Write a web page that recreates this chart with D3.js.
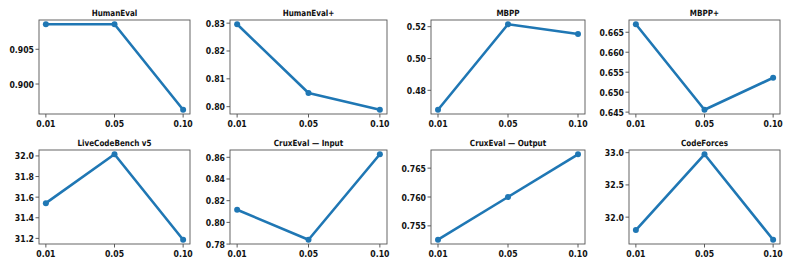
<!DOCTYPE html>
<html>
<head>
<meta charset="utf-8">
<script src="https://cdn.jsdelivr.net/npm/d3@7"></script>
<style>
  body { margin: 0; background: #fff; }
  text { font-family: "DejaVu Sans", sans-serif; font-weight: bold; fill: #111; }
</style>
</head>
<body>
<script>
// Sensitivity of each benchmark to the threshold value
var xLabels = ["0.01", "0.05", "0.10"]

var titles = ["HumanEval", "HumanEval+", "MBPP", "MBPP+",
              "LiveCodeBench v5", "CruxEval \u2014 Input", "CruxEval \u2014 Output", "CodeForces"]

var humanEval    = [0.9086, 0.9086, 0.8963]
var humanEvalP   = [0.8296, 0.8049, 0.7989]
var mbpp         = [0.4678, 0.5215, 0.5154]
var mbppP        = [0.6670, 0.6456, 0.6536]
var liveCode     = [31.542, 32.016, 31.187]
var cruxInput    = [0.8116, 0.7840, 0.8628]
var cruxOutput   = [0.7526, 0.7600, 0.7674]
var codeForces   = [31.80, 32.975, 31.65]

var yTicks = [
  [0.900, 0.905],
  [0.80, 0.81, 0.82, 0.83],
  [0.48, 0.50, 0.52],
  [0.645, 0.650, 0.655, 0.660, 0.665],
  [31.2, 31.4, 31.6, 31.8, 32.0],
  [0.78, 0.80, 0.82, 0.84, 0.86],
  [0.755, 0.760, 0.765],
  [32.0, 32.5, 33.0]
]
var yFormats = [".3f", ".2f", ".2f", ".3f", ".1f", ".2f", ".3f", ".1f"]

var series = [humanEval, humanEvalP, mbpp, mbppP, liveCode, cruxInput, cruxOutput, codeForces]

// panel geometry
var colLeft = [39, 230, 431, 629]
var colRight = [190, 387, 585, 780]
var rowTop = [20, 150]
var rowBottom = [114, 244]

var blue = "#1f77b4"
var tickSize = 9.5
var squeeze = 0.82

var svg = d3.select("body")
  .append("svg")
  .attr("width", 793)
  .attr("height", 267)

function squeezedText(g, x, y, str, anchor, size, sx) {
  g.append("g")
    .attr("transform", "translate(" + x + "," + y + ") scale(" + sx + ",1)")
    .append("text")
    .attr("text-anchor", anchor)
    .attr("font-size", size)
    .text(str)
}

series.forEach(function(vals, i)
{
  var c = i % 4
  var r = Math.floor(i / 4)
  var x0 = colLeft[c], x1 = colRight[c]
  var y0 = rowTop[r], y1 = rowBottom[r]

  var xScale = d3.scaleLinear()
    .domain([-0.1, 2.1])
    .range([x0, x1])

  var lo = d3.min(vals), hi = d3.max(vals)
  var pad = (hi - lo) * 0.05
  var yScale = d3.scaleLinear()
    .domain([lo - pad, hi + pad])
    .range([y1, y0])

  var g = svg.append("g").attr("class", "panel")

  // ticks
  var fmt = d3.format(yFormats[i])
  yTicks[i].forEach(function(t)
  {
    var y = yScale(t)
    g.append("line")
      .attr("x1", x0 - 3.5).attr("x2", x0)
      .attr("y1", y).attr("y2", y)
      .attr("stroke", "#333").attr("stroke-width", 0.8)
    squeezedText(g, x0 - 5, y + 3.5, fmt(t), "end", tickSize, squeeze)
  })

  xLabels.forEach(function(lab, k)
  {
    var x = xScale(k)
    g.append("line")
      .attr("x1", x).attr("x2", x)
      .attr("y1", y1).attr("y2", y1 + 3.5)
      .attr("stroke", "#333").attr("stroke-width", 0.8)
    squeezedText(g, x, y1 + 13, lab, "middle", tickSize, squeeze)
  })

  // line and markers
  var line = d3.line()
    .x(function(d, k) { return xScale(k) })
    .y(function(d) { return yScale(d) })

  g.append("path")
    .datum(vals)
    .attr("d", line)
    .attr("fill", "none")
    .attr("stroke", blue)
    .attr("stroke-width", 2.6)
    .attr("stroke-linejoin", "round")

  g.selectAll("circle")
    .data(vals)
    .enter()
    .append("circle")
    .attr("cx", function(d, k) { return xScale(k) })
    .attr("cy", function(d) { return yScale(d) })
    .attr("r", 3)
    .attr("fill", blue)

  // frame
  g.append("rect")
    .attr("x", x0).attr("y", y0)
    .attr("width", x1 - x0).attr("height", y1 - y0)
    .attr("fill", "none")
    .attr("stroke", "#555")
    .attr("stroke-width", 0.9)

  squeezedText(g, (x0 + x1) / 2, y0 - 4, titles[i], "middle", 8.5, 0.85)
})
</script>
</body>
</html>
